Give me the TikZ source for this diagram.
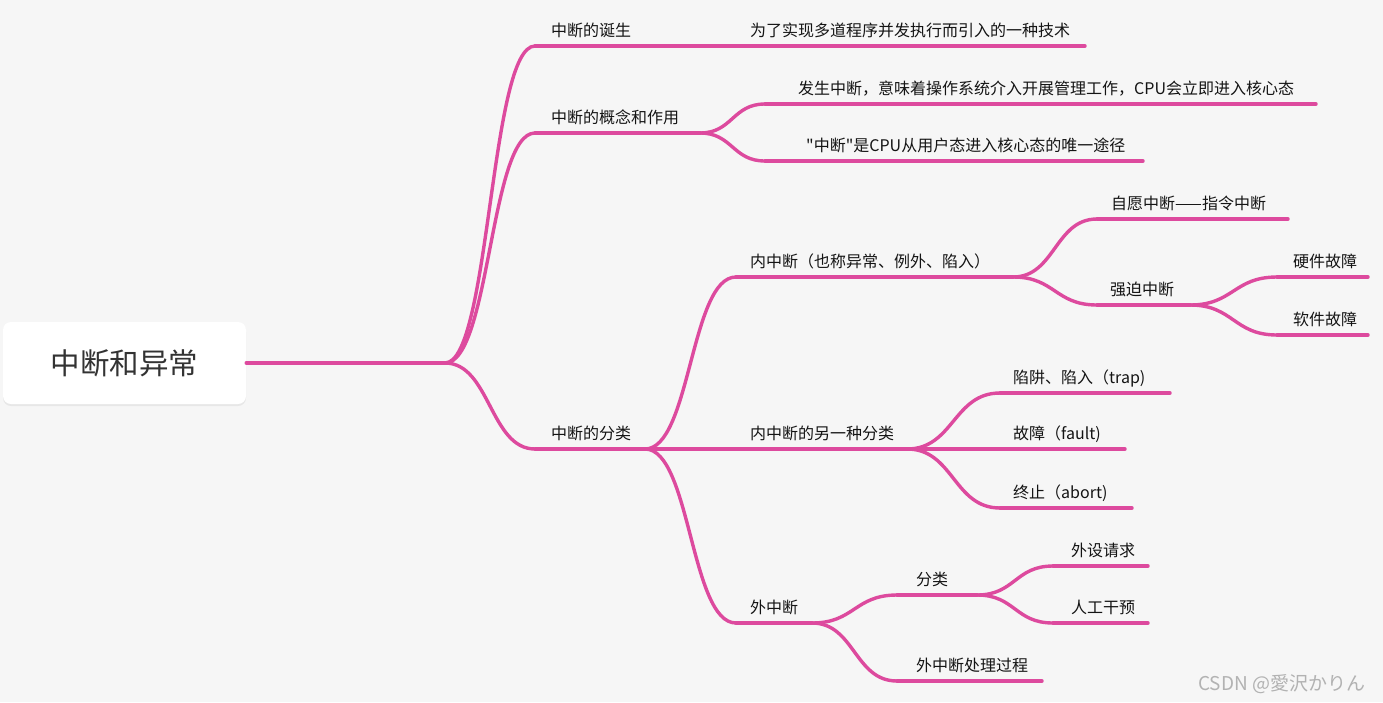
\documentclass[tikz,border=0pt]{standalone}
\usepackage{fontspec}
\newfontfamily\cjk{Noto Sans CJK SC}
\newfontfamily\jpfont{Noto Sans CJK JP}
\usetikzlibrary{calc,shadows}
\definecolor{bg}{RGB}{246,246,246}
\definecolor{mm}{RGB}{221,74,158}
\definecolor{txt}{RGB}{20,20,20}
\definecolor{roottxt}{RGB}{51,51,51}
\definecolor{wm}{RGB}{178,178,178}
\tikzset{
  branch/.style={draw=mm, line width=3.4pt, line cap=round},
  lbl/.style={anchor=base west, inner sep=0pt, font=\cjk\fontsize{16}{16}\selectfont, text=txt},
  rootbox/.style={rectangle, rounded corners=8pt, fill=white, minimum width=243pt, minimum height=82pt,
    drop shadow={shadow xshift=0pt, shadow yshift=-2pt, opacity=0.12}, font=\cjk\fontsize{29.5}{30}\selectfont, text=roottxt},
}
% name, x1, x2, y, text x, text
\newcommand\mmtopic[6]{%
  \coordinate (#1s) at (#2,#4);
  \coordinate (#1e) at (#3,#4);
  \draw[branch] (#1s) -- (#1e);
  \node[lbl] (#1) at (#5,#4-10) {#6};
}
\newcommand\mmconn[2]{%
  \coordinate (mid) at ($(#1)!0.5!(#2)$);
  \draw[branch] (#1) .. controls (mid |- #1) and (mid |- #2) .. (#2);
}
\begin{document}
\begin{tikzpicture}[x=1pt,y=-1pt]
\fill[bg] (0,0) rectangle (1383,702);
\useasboundingbox (0,0) rectangle (1383,702);

% root
\node[rootbox] (root) at (124.5,363) {中断和异常};
\coordinate (rootE) at (445,363);
\draw[branch] (root.east) -- (rootE);

% level 1
\mmtopic{birth}{535}{700}{46}{551}{中断的诞生}
\mmtopic{concept}{535}{700}{133}{551}{中断的概念和作用}
\mmtopic{cls}{535}{645}{449}{551}{中断的分类}
\mmconn{rootE}{births}
\mmconn{rootE}{concepts}
\mmconn{rootE}{clss}

% birth child
\mmtopic{tech}{735}{1085}{46}{750}{为了实现多道程序并发执行而引入的一种技术}
\mmconn{birthe}{techs}

% concept children
\mmtopic{occur}{765}{1316}{104}{798}{发生中断，意味着操作系统介入开展管理工作，CPU会立即进入核心态}
\mmtopic{only}{765}{1143}{161}{806}{"中断"是CPU从用户态进入核心态的唯一途径}
\mmconn{concepte}{occurs}
\mmconn{concepte}{onlys}

% classification children
\mmtopic{inner}{736}{1013}{277}{750}{内中断（也称异常、例外、陷入）}
\mmtopic{other}{736}{907}{449}{750}{内中断的另一种分类}
\mmtopic{ext}{736}{812}{623}{750}{外中断}
\mmconn{clse}{inners}
\mmconn{clse}{others}
\mmconn{clse}{exts}

% inner children
\mmtopic{vol}{1097}{1288}{219}{1111}{自愿中断——指令中断}
\mmtopic{forced}{1097}{1190}{305}{1110}{强迫中断}
\mmconn{innere}{vols}
\mmconn{innere}{forceds}
\mmtopic{hw}{1277}{1368}{277}{1293}{硬件故障}
\mmtopic{sw}{1277}{1368}{335}{1293}{软件故障}
\mmconn{forcede}{hws}
\mmconn{forcede}{sws}

% other classification children
\mmtopic{trap}{1000}{1170}{393}{1013}{陷阱、陷入（trap)}
\mmtopic{fault}{1000}{1125}{449}{1013}{故障（fault)}
\mmtopic{abort}{1000}{1132}{508}{1013}{终止（abort)}
\mmconn{othere}{traps}
\mmconn{othere}{faults}
\mmconn{othere}{aborts}

% external children
\mmtopic{sub}{897}{977}{595}{916}{分类}
\mmtopic{proc}{897}{1042}{681}{916}{外中断处理过程}
\mmconn{exte}{subs}
\mmconn{exte}{procs}
\mmtopic{dev}{1053}{1148}{566}{1071}{外设请求}
\mmtopic{man}{1053}{1148}{623}{1071}{人工干预}
\mmconn{sube}{devs}
\mmconn{sube}{mans}

% watermark
\node[anchor=base west, inner sep=0pt, text=wm, font=\jpfont\fontsize{19}{19}\selectfont] (wmark) at (1198,690) {CSDN @愛沢かりん};
\end{tikzpicture}
\end{document}
